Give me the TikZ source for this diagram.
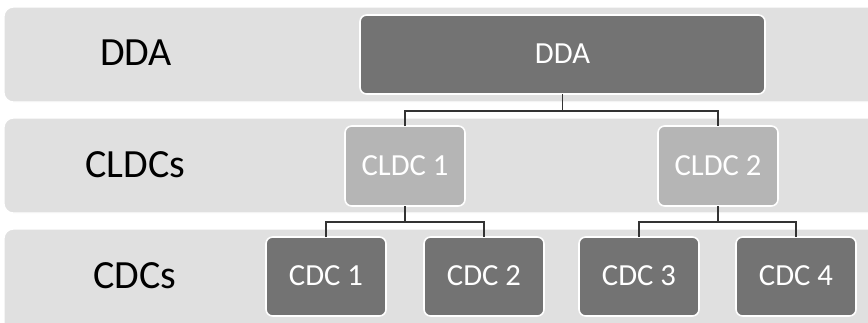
\documentclass[tikz,border=0pt]{standalone}
\usepackage{fontspec}
\setmainfont{Carlito}
\definecolor{bandgray}{HTML}{E0E0E0}
\definecolor{darkbox}{HTML}{737373}
\definecolor{lightbox}{HTML}{B5B5B5}
\definecolor{linegray}{HTML}{333333}
\begin{document}
\begin{tikzpicture}[x=0.75pt,y=-0.75pt,
  band/.style={fill=bandgray,draw=white,line width=1pt,rounded corners=7pt},
  darkb/.style={fill=darkbox,draw=white,line width=1.2pt,rounded corners=5pt},
  lightb/.style={fill=lightbox,draw=white,line width=1.2pt,rounded corners=5pt},
  btxt/.style={anchor=base,inner sep=0pt,text=white,font=\fontsize{23}{27}\selectfont},
  lbl/.style={anchor=base,inner sep=0pt,font=\fontsize{30}{36}\selectfont,text=black},
  conn/.style={draw=linegray,line width=1pt}]
\useasboundingbox (0,0) rectangle (868,322);
\fill[white] (0,0) rectangle (868,322);
% bands
\path[band] (4,7) rectangle (880,102);
\path[band] (4,118) rectangle (880,213);
\path[band] (4,229) rectangle (880,335);
% labels
\node[lbl] (l1) at (136,65) {DDA};
\node[lbl] (l2) at (135.5,177) {CLDCs};
\node[lbl] (l3) at (135,288) {CDCs};
% boxes
\path[darkb] (360,15) rectangle (765,94);
\node[btxt] (dda) at (562.5,63) {DDA};
\path[lightb] (345,126) rectangle (465,206);
\node[btxt] (c1) at (405,175) {CLDC 1};
\path[lightb] (658,126) rectangle (778,206);
\node[btxt] (c2) at (718,175) {CLDC 2};
\path[darkb] (266,237) rectangle (386,316);
\node[btxt] (d1) at (326,285) {CDC 1};
\path[darkb] (424,237) rectangle (544,316);
\node[btxt] (d2) at (484,285) {CDC 2};
\path[darkb] (579,237) rectangle (699,316);
\node[btxt] (d3) at (639,285) {CDC 3};
\path[darkb] (736,237) rectangle (856,316);
\node[btxt] (d4) at (796,285) {CDC 4};
% connectors
\coordinate (ddab) at (562.5,94);
\coordinate (c1t) at (405,126);
\coordinate (c2t) at (718,126);
\coordinate (c1b) at (405,206);
\coordinate (c2b) at (718,206);
\coordinate (d1t) at (326,237);
\coordinate (d2t) at (484,237);
\coordinate (d3t) at (639,237);
\coordinate (d4t) at (796,237);
\draw[conn] (ddab) -- (562.5,111);
\draw[conn] (c1t) -- (405,111) -- (718,111) -- (c2t);
\draw[conn] (c1b) -- (405,222);
\draw[conn] (d1t) -- (326,222) -- (484,222) -- (d2t);
\draw[conn] (c2b) -- (718,222);
\draw[conn] (d3t) -- (639,222) -- (796,222) -- (d4t);
\end{tikzpicture}
\end{document}
